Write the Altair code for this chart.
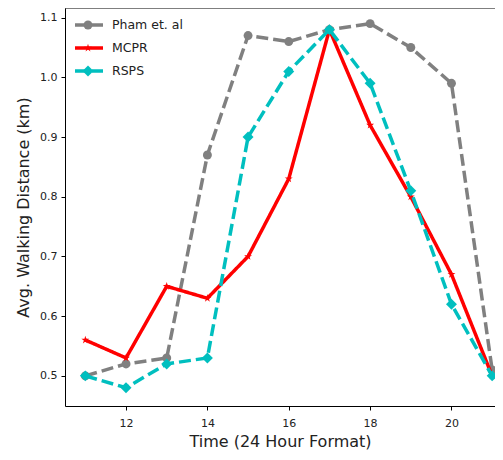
import altair as alt
import pandas as pd

hours = [11, 12, 13, 14, 15, 16, 17, 18, 19, 20, 21]
pham = [0.50, 0.52, 0.53, 0.87, 1.07, 1.06, 1.08, 1.09, 1.05, 0.99, 0.51]
mcpr = [0.56, 0.53, 0.65, 0.63, 0.70, 0.83, 1.08, 0.92, 0.80, 0.67, 0.50]
rsps = [0.50, 0.48, 0.52, 0.53, 0.90, 1.01, 1.08, 0.99, 0.81, 0.62, 0.50]
series_names = ["Pham et. al", "MCPR", "RSPS"]
x_ticks = [12, 14, 16, 18, 20]
y_ticks = [0.5, 0.6, 0.7, 0.8, 0.9, 1.0, 1.1]

star = "M0,-1L0.22,-0.3L0.95,-0.31L0.36,0.12L0.59,0.81L0,0.38L-0.59,0.81L-0.36,0.12L-0.95,-0.31L-0.22,-0.3Z"
styles = {
    "Pham et. al": dict(color="#808080", dash=[12, 5], shape="circle", size=80),
    "MCPR": dict(color="#ff0000", dash=[1, 0], shape=star, size=70),
    "RSPS": dict(color="#00bfbf", dash=[12, 5], shape="diamond", size=120),
}

values = {"Pham et. al": pham, "MCPR": mcpr, "RSPS": rsps}

xs = alt.Scale(domain=[10.5, 21.07], nice=False, zero=False)
ys = alt.Scale(domain=[0.4495, 1.1162], nice=False, zero=False)
x_axis = alt.Axis(values=x_ticks, title="Time (24 Hour Format)", grid=False)
y_axis = alt.Axis(values=y_ticks, format=".1f", title="Avg. Walking Distance (km)", grid=False)

layers = []
for i, name in enumerate(series_names):
    st = styles[name]
    df = pd.DataFrame({"hour": hours, "dist": values[name]})
    base = alt.Chart(df).encode(
        x=alt.X("hour:Q", scale=xs, axis=x_axis),
        y=alt.Y("dist:Q", scale=ys, axis=y_axis),
    )
    line = base.mark_line(color=st["color"], strokeWidth=3.5, strokeDash=st["dash"])
    pts = base.mark_point(filled=True, opacity=1, color=st["color"], shape=st["shape"], size=st["size"])
    layers += [line, pts]

dummy = alt.Chart(pd.DataFrame({"a": [0]}))
# top spine (right spine is cropped off in the reference)
layers.append(dummy.mark_rule(color="black", strokeWidth=1).encode(
    x=alt.value(0), x2=alt.value(430), y=alt.value(0)))

# manual legend
leg_y = [17, 40, 63]
for i, name in enumerate(series_names):
    st = styles[name]
    layers.append(dummy.mark_rule(color=st["color"], strokeWidth=3.5, strokeDash=st["dash"]).encode(
        x=alt.value(10), x2=alt.value(38), y=alt.value(leg_y[i])))
    layers.append(dummy.mark_point(filled=True, opacity=1, color=st["color"], shape=st["shape"], size=st["size"]).encode(
        x=alt.value(23), y=alt.value(leg_y[i])))
    layers.append(dummy.mark_text(align="left", baseline="middle", font="DejaVu Sans", fontSize=12.5, color="#222").encode(
        x=alt.value(47), y=alt.value(leg_y[i]), text=alt.value(name)))

chart = alt.layer(*layers).properties(
    width=430, height=398,
    autosize=alt.AutoSizeParams(type="none"),
    padding={"left": 57, "top": 0, "right": 0, "bottom": 46},
).configure_view(strokeWidth=0).configure_axis(
    domainColor="black", tickColor="black", tickSize=4,
    labelFont="DejaVu Sans", labelFontSize=11, labelColor="#222",
    titleFont="DejaVu Sans", titleFontSize=16, titleFontWeight="normal", titleColor="#222",
).configure_axisX(labelPadding=7, titlePadding=5).configure_axisY(labelPadding=4, titlePadding=8)

chart.save("out.html", embed_options={"renderer": "svg", "actions": False})
